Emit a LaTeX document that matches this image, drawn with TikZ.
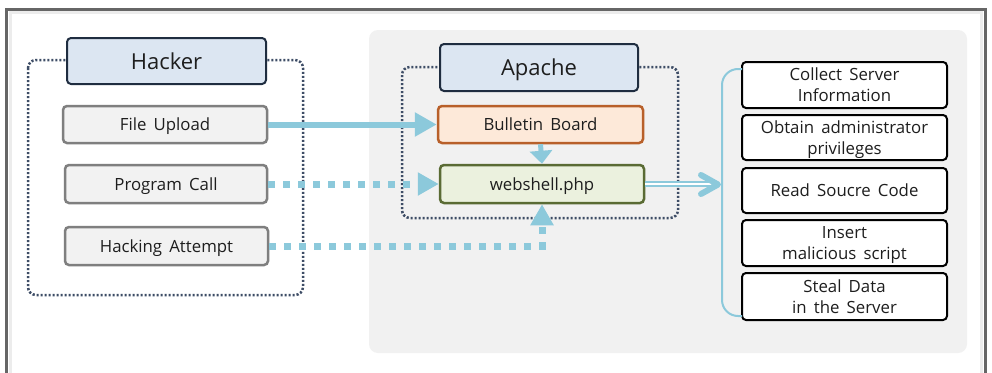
\documentclass[tikz,border=0pt]{standalone}
\usepackage{fontspec}
\setmainfont{Open Sans}
\usetikzlibrary{arrows.meta,calc}
\definecolor{arrowblue}{HTML}{8CC9DB}
\definecolor{groupline}{HTML}{3E4D66}
\definecolor{headfill}{HTML}{DCE6F2}
\definecolor{headdraw}{HTML}{1F2D40}
\definecolor{actfill}{HTML}{F2F2F2}
\definecolor{actdraw}{HTML}{7F7F7F}
\definecolor{bbfill}{HTML}{FDE9D9}
\definecolor{bbdraw}{HTML}{B8602A}
\definecolor{wsfill}{HTML}{EBF1DE}
\definecolor{wsdraw}{HTML}{5A6B34}
\definecolor{regionfill}{HTML}{F1F1F1}
\definecolor{framegray}{HTML}{666666}
\definecolor{txt}{HTML}{1E1E1E}
\begin{document}
\begin{tikzpicture}[x=1pt,y=-1pt,
  box/.style={rounded corners=4pt, line width=2pt, align=center, inner sep=0pt,
    text=txt, font=\fontsize{16.8}{21}\selectfont, text depth=0pt},
  headbox/.style={box, fill=headfill, draw=headdraw, font=\fontsize{22}{26}\selectfont},
  actbox/.style={box, fill=actfill, draw=actdraw, line width=2.5pt},
  bbbox/.style={box, fill=bbfill, draw=bbdraw, line width=2.5pt},
  wsbox/.style={box, fill=wsfill, draw=wsdraw, line width=2.5pt},
  effbox/.style={box, fill=white, draw=black, minimum width=205pt},
  grp/.style={draw=groupline, line width=2.5pt, dash pattern=on 2.2pt off 1.8pt, rounded corners=8pt},
  solidarrow/.style={draw=arrowblue, line width=6pt, -{Triangle[length=22pt,width=23pt]}},
  dotarrow/.style={draw=arrowblue, line width=7pt, dash pattern=on 7pt off 8pt, -{Triangle[length=21pt,width=22pt]}},
]
\useasboundingbox (0,0) rectangle (992,372);
\clip (0,0) rectangle (992,372);
\fill[white] (0,0) rectangle (992,372);
% outer frame
\draw[line width=3pt, gray!15] (10.5,12.5) rectangle (981.5,400);
\draw[line width=3pt, framegray] (6.5,9.5) rectangle (985.5,400);
% grey region
\fill[regionfill, rounded corners=9pt] (369,30) rectangle (967,353);
% groups
\draw[grp] (28,60) rectangle (303,295);
\draw[grp] (402,67) rectangle (678,218);
% nodes
\node[headbox, minimum width=199pt, minimum height=46pt] (hacker) at (166.5,61) {Hacker};
\node[actbox, minimum width=204pt, minimum height=37pt] (fu) at (165,124.5) {File\, Upload};
\node[actbox, minimum width=202pt, minimum height=38pt] (pc) at (166,184) {Program\, Call};
\node[actbox, minimum width=203pt, minimum height=38pt] (ha) at (166.5,246) {Hacking\, Attempt};
\node[headbox, minimum width=198pt, minimum height=47pt] (apache) at (539,67.5) {Apache};
\node[bbbox, minimum width=205pt, minimum height=37pt] (bb) at (540.5,124.5) {Bulletin\, Board};
\node[wsbox, minimum width=204pt, minimum height=38pt] (ws) at (542,184) {webshell.php};
\node[effbox, minimum height=46pt] (e1) at (844.5,85) {Collect\, Server\\Information};
\node[effbox, minimum height=45pt] (e2) at (844.5,137.5) {Obtain\, administrator\\privileges};
\node[effbox, minimum height=45pt] (e3) at (844.5,190.5) {Read\, Soucre\, Code};
\node[effbox, minimum height=46pt] (e4) at (844.5,243) {Insert\\malicious\, script};
\node[effbox, minimum height=47pt] (e5) at (844.5,296.5) {Steal\, Data\\in\, the\, Server};
% connectors
\draw[solidarrow] (fu.east) -- (bb.west);
\draw[dotarrow] (pc.east) -- (ws.west);
\draw[dotarrow] (ha.east) -| (ws.south);
\draw[draw=arrowblue, line width=5pt, -{Triangle[length=13pt,width=22pt]}] (bb.south) -- (ws.north);
% double arrow to effects
\coordinate (dblend) at (716,184);
\draw[arrowblue, double=white, double distance=2.5pt, line width=1.8pt] (ws.east) -- (dblend);
\coordinate (chevtop) at (701,175);
\coordinate (chevtip) at (718,184.5);
\coordinate (chevbot) at (701,194);
\draw[arrowblue, line width=6pt, line cap=round, line join=round] (chevtop) -- (chevtip) -- (chevbot);
% bracket
\coordinate (brtop) at (742,69);
\coordinate (brbot) at (742,316);
\draw[arrowblue, line width=2pt, rounded corners=16pt] (brtop) -- (722,69) -- (722,316) -- (brbot);
\end{tikzpicture}
\end{document}
